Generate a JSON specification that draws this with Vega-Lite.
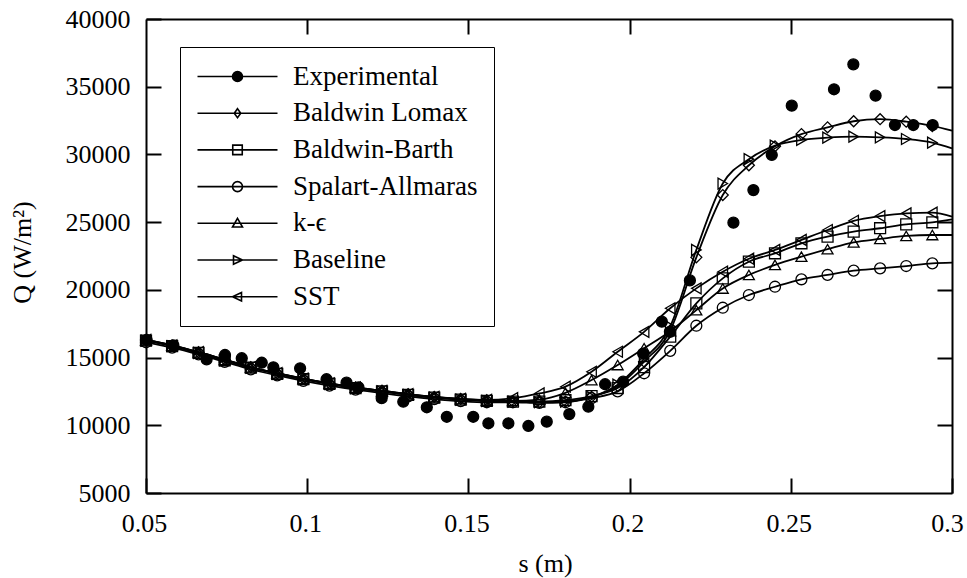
{
  "$schema": "https://vega.github.io/schema/vega-lite/v6.json",
  "width": 806,
  "height": 474,
  "autosize": {"type": "none"},
  "padding": {"left": 146, "top": 19, "right": 15, "bottom": 85},
  "background": "white",
  "config": {
    "view": {"stroke": null},
    "font": "Liberation Serif",
    "axis": {
      "domainColor": "black", "domainWidth": 2, "tickColor": "black", "tickWidth": 2,
      "grid": false, "labelFont": "Liberation Serif", "labelFontSize": 26, "labelColor": "black",
      "titleFont": "Liberation Serif", "titleFontSize": 26, "titleFontWeight": "normal", "titleColor": "black",
      "labelFlush": false, "labelOverlap": false
    }
  },
  "data": {"values": [
    {"model":"Baldwin Lomax","s":0.05,"Q":16300},{"model":"Baldwin Lomax","s":0.0581,"Q":15900},{"model":"Baldwin Lomax","s":0.0663,"Q":15400},{"model":"Baldwin Lomax","s":0.0744,"Q":14850},{"model":"Baldwin Lomax","s":0.0825,"Q":14300},{"model":"Baldwin Lomax","s":0.0907,"Q":13850},{"model":"Baldwin Lomax","s":0.0988,"Q":13450},{"model":"Baldwin Lomax","s":0.1069,"Q":13100},{"model":"Baldwin Lomax","s":0.115,"Q":12800},{"model":"Baldwin Lomax","s":0.1232,"Q":12550},{"model":"Baldwin Lomax","s":0.1313,"Q":12300},{"model":"Baldwin Lomax","s":0.1394,"Q":12100},{"model":"Baldwin Lomax","s":0.1476,"Q":11950},{"model":"Baldwin Lomax","s":0.1557,"Q":11850},{"model":"Baldwin Lomax","s":0.1638,"Q":11750},{"model":"Baldwin Lomax","s":0.172,"Q":11700},{"model":"Baldwin Lomax","s":0.1801,"Q":11750},{"model":"Baldwin Lomax","s":0.1882,"Q":12100},{"model":"Baldwin Lomax","s":0.1963,"Q":12900},{"model":"Baldwin Lomax","s":0.2045,"Q":14700},{"model":"Baldwin Lomax","s":0.2126,"Q":17000},{"model":"Baldwin Lomax","s":0.2207,"Q":22400},{"model":"Baldwin Lomax","s":0.2289,"Q":27000},{"model":"Baldwin Lomax","s":0.237,"Q":29200},{"model":"Baldwin Lomax","s":0.2451,"Q":30600},{"model":"Baldwin Lomax","s":0.2533,"Q":31500},{"model":"Baldwin Lomax","s":0.2614,"Q":32000},{"model":"Baldwin Lomax","s":0.2695,"Q":32450},{"model":"Baldwin Lomax","s":0.2777,"Q":32600},{"model":"Baldwin Lomax","s":0.2858,"Q":32420},{"model":"Baldwin Lomax","s":0.2939,"Q":32100},{"model":"Baldwin Lomax","s":0.3,"Q":31750},
    {"model":"Baldwin-Barth","s":0.05,"Q":16250},{"model":"Baldwin-Barth","s":0.0581,"Q":15850},{"model":"Baldwin-Barth","s":0.0663,"Q":15350},{"model":"Baldwin-Barth","s":0.0744,"Q":14800},{"model":"Baldwin-Barth","s":0.0825,"Q":14250},{"model":"Baldwin-Barth","s":0.0907,"Q":13800},{"model":"Baldwin-Barth","s":0.0988,"Q":13400},{"model":"Baldwin-Barth","s":0.1069,"Q":13050},{"model":"Baldwin-Barth","s":0.115,"Q":12750},{"model":"Baldwin-Barth","s":0.1232,"Q":12500},{"model":"Baldwin-Barth","s":0.1313,"Q":12250},{"model":"Baldwin-Barth","s":0.1394,"Q":12050},{"model":"Baldwin-Barth","s":0.1476,"Q":11900},{"model":"Baldwin-Barth","s":0.1557,"Q":11800},{"model":"Baldwin-Barth","s":0.1638,"Q":11750},{"model":"Baldwin-Barth","s":0.172,"Q":11750},{"model":"Baldwin-Barth","s":0.1801,"Q":11850},{"model":"Baldwin-Barth","s":0.1882,"Q":12150},{"model":"Baldwin-Barth","s":0.1963,"Q":12750},{"model":"Baldwin-Barth","s":0.2045,"Q":14300},{"model":"Baldwin-Barth","s":0.2126,"Q":16550},{"model":"Baldwin-Barth","s":0.2207,"Q":19000},{"model":"Baldwin-Barth","s":0.2289,"Q":20850},{"model":"Baldwin-Barth","s":0.237,"Q":22080},{"model":"Baldwin-Barth","s":0.2451,"Q":22700},{"model":"Baldwin-Barth","s":0.2533,"Q":23440},{"model":"Baldwin-Barth","s":0.2614,"Q":23930},{"model":"Baldwin-Barth","s":0.2695,"Q":24300},{"model":"Baldwin-Barth","s":0.2777,"Q":24550},{"model":"Baldwin-Barth","s":0.2858,"Q":24840},{"model":"Baldwin-Barth","s":0.2939,"Q":24990},{"model":"Baldwin-Barth","s":0.3,"Q":25210},
    {"model":"Spalart-Allmaras","s":0.05,"Q":16130},{"model":"Spalart-Allmaras","s":0.0581,"Q":15730},{"model":"Spalart-Allmaras","s":0.0663,"Q":15230},{"model":"Spalart-Allmaras","s":0.0744,"Q":14680},{"model":"Spalart-Allmaras","s":0.0825,"Q":14130},{"model":"Spalart-Allmaras","s":0.0907,"Q":13680},{"model":"Spalart-Allmaras","s":0.0988,"Q":13280},{"model":"Spalart-Allmaras","s":0.1069,"Q":12930},{"model":"Spalart-Allmaras","s":0.115,"Q":12630},{"model":"Spalart-Allmaras","s":0.1232,"Q":12380},{"model":"Spalart-Allmaras","s":0.1313,"Q":12130},{"model":"Spalart-Allmaras","s":0.1394,"Q":11930},{"model":"Spalart-Allmaras","s":0.1476,"Q":11780},{"model":"Spalart-Allmaras","s":0.1557,"Q":11700},{"model":"Spalart-Allmaras","s":0.1638,"Q":11700},{"model":"Spalart-Allmaras","s":0.172,"Q":11650},{"model":"Spalart-Allmaras","s":0.1801,"Q":11700},{"model":"Spalart-Allmaras","s":0.1882,"Q":12000},{"model":"Spalart-Allmaras","s":0.1963,"Q":12500},{"model":"Spalart-Allmaras","s":0.2045,"Q":13840},{"model":"Spalart-Allmaras","s":0.2126,"Q":15500},{"model":"Spalart-Allmaras","s":0.2207,"Q":17350},{"model":"Spalart-Allmaras","s":0.2289,"Q":18680},{"model":"Spalart-Allmaras","s":0.237,"Q":19620},{"model":"Spalart-Allmaras","s":0.2451,"Q":20230},{"model":"Spalart-Allmaras","s":0.2533,"Q":20780},{"model":"Spalart-Allmaras","s":0.2614,"Q":21100},{"model":"Spalart-Allmaras","s":0.2695,"Q":21420},{"model":"Spalart-Allmaras","s":0.2777,"Q":21590},{"model":"Spalart-Allmaras","s":0.2858,"Q":21760},{"model":"Spalart-Allmaras","s":0.2939,"Q":21960},{"model":"Spalart-Allmaras","s":0.3,"Q":22010},
    {"model":"k-ϵ","s":0.05,"Q":16280},{"model":"k-ϵ","s":0.0581,"Q":15880},{"model":"k-ϵ","s":0.0663,"Q":15380},{"model":"k-ϵ","s":0.0744,"Q":14830},{"model":"k-ϵ","s":0.0825,"Q":14280},{"model":"k-ϵ","s":0.0907,"Q":13830},{"model":"k-ϵ","s":0.0988,"Q":13430},{"model":"k-ϵ","s":0.1069,"Q":13080},{"model":"k-ϵ","s":0.115,"Q":12780},{"model":"k-ϵ","s":0.1232,"Q":12530},{"model":"k-ϵ","s":0.1313,"Q":12280},{"model":"k-ϵ","s":0.1394,"Q":12080},{"model":"k-ϵ","s":0.1476,"Q":11930},{"model":"k-ϵ","s":0.1557,"Q":11830},{"model":"k-ϵ","s":0.1638,"Q":11800},{"model":"k-ϵ","s":0.172,"Q":11900},{"model":"k-ϵ","s":0.1801,"Q":12400},{"model":"k-ϵ","s":0.1882,"Q":13340},{"model":"k-ϵ","s":0.1963,"Q":14450},{"model":"k-ϵ","s":0.2045,"Q":15690},{"model":"k-ϵ","s":0.2126,"Q":16950},{"model":"k-ϵ","s":0.2207,"Q":18500},{"model":"k-ϵ","s":0.2289,"Q":20100},{"model":"k-ϵ","s":0.237,"Q":21100},{"model":"k-ϵ","s":0.2451,"Q":21840},{"model":"k-ϵ","s":0.2533,"Q":22450},{"model":"k-ϵ","s":0.2614,"Q":23000},{"model":"k-ϵ","s":0.2695,"Q":23510},{"model":"k-ϵ","s":0.2777,"Q":23760},{"model":"k-ϵ","s":0.2858,"Q":23980},{"model":"k-ϵ","s":0.2939,"Q":24050},{"model":"k-ϵ","s":0.3,"Q":24050},
    {"model":"Baseline","s":0.05,"Q":16250},{"model":"Baseline","s":0.0581,"Q":15850},{"model":"Baseline","s":0.0663,"Q":15350},{"model":"Baseline","s":0.0744,"Q":14800},{"model":"Baseline","s":0.0825,"Q":14250},{"model":"Baseline","s":0.0907,"Q":13800},{"model":"Baseline","s":0.0988,"Q":13400},{"model":"Baseline","s":0.1069,"Q":13050},{"model":"Baseline","s":0.115,"Q":12750},{"model":"Baseline","s":0.1232,"Q":12500},{"model":"Baseline","s":0.1313,"Q":12250},{"model":"Baseline","s":0.1394,"Q":12050},{"model":"Baseline","s":0.1476,"Q":11900},{"model":"Baseline","s":0.1557,"Q":11800},{"model":"Baseline","s":0.1638,"Q":11750},{"model":"Baseline","s":0.172,"Q":11700},{"model":"Baseline","s":0.1801,"Q":11750},{"model":"Baseline","s":0.1882,"Q":12100},{"model":"Baseline","s":0.1963,"Q":13000},{"model":"Baseline","s":0.2045,"Q":14900},{"model":"Baseline","s":0.2126,"Q":17300},{"model":"Baseline","s":0.2207,"Q":22950},{"model":"Baseline","s":0.2289,"Q":27850},{"model":"Baseline","s":0.237,"Q":29650},{"model":"Baseline","s":0.2451,"Q":30650},{"model":"Baseline","s":0.2533,"Q":31070},{"model":"Baseline","s":0.2614,"Q":31240},{"model":"Baseline","s":0.2695,"Q":31310},{"model":"Baseline","s":0.2777,"Q":31260},{"model":"Baseline","s":0.2858,"Q":31140},{"model":"Baseline","s":0.2939,"Q":30870},{"model":"Baseline","s":0.3,"Q":30450},
    {"model":"SST","s":0.05,"Q":16300},{"model":"SST","s":0.0581,"Q":15900},{"model":"SST","s":0.0663,"Q":15400},{"model":"SST","s":0.0744,"Q":14850},{"model":"SST","s":0.0825,"Q":14300},{"model":"SST","s":0.0907,"Q":13850},{"model":"SST","s":0.0988,"Q":13450},{"model":"SST","s":0.1069,"Q":13100},{"model":"SST","s":0.115,"Q":12800},{"model":"SST","s":0.1232,"Q":12550},{"model":"SST","s":0.1313,"Q":12300},{"model":"SST","s":0.1394,"Q":12100},{"model":"SST","s":0.1476,"Q":11950},{"model":"SST","s":0.1557,"Q":11880},{"model":"SST","s":0.1638,"Q":12000},{"model":"SST","s":0.172,"Q":12350},{"model":"SST","s":0.1801,"Q":12850},{"model":"SST","s":0.1882,"Q":13950},{"model":"SST","s":0.1963,"Q":15430},{"model":"SST","s":0.2045,"Q":16900},{"model":"SST","s":0.2126,"Q":18640},{"model":"SST","s":0.2207,"Q":20110},{"model":"SST","s":0.2289,"Q":21340},{"model":"SST","s":0.237,"Q":22300},{"model":"SST","s":0.2451,"Q":22950},{"model":"SST","s":0.2533,"Q":23690},{"model":"SST","s":0.2614,"Q":24420},{"model":"SST","s":0.2695,"Q":25100},{"model":"SST","s":0.2777,"Q":25450},{"model":"SST","s":0.2858,"Q":25650},{"model":"SST","s":0.2939,"Q":25700},{"model":"SST","s":0.3,"Q":25400},
    {"model":"Experimental","s":0.0502,"Q":16300},{"model":"Experimental","s":0.0585,"Q":15900},{"model":"Experimental","s":0.0688,"Q":14870},{"model":"Experimental","s":0.0745,"Q":15190},{"model":"Experimental","s":0.0797,"Q":14950},{"model":"Experimental","s":0.0859,"Q":14620},{"model":"Experimental","s":0.0895,"Q":14280},{"model":"Experimental","s":0.0978,"Q":14210},{"model":"Experimental","s":0.106,"Q":13400},{"model":"Experimental","s":0.1122,"Q":13150},{"model":"Experimental","s":0.1159,"Q":12800},{"model":"Experimental","s":0.1231,"Q":12000},{"model":"Experimental","s":0.1298,"Q":11740},{"model":"Experimental","s":0.1371,"Q":11330},{"model":"Experimental","s":0.1433,"Q":10630},{"model":"Experimental","s":0.1515,"Q":10630},{"model":"Experimental","s":0.1562,"Q":10150},{"model":"Experimental","s":0.1624,"Q":10150},{"model":"Experimental","s":0.1686,"Q":9950},{"model":"Experimental","s":0.1743,"Q":10265},{"model":"Experimental","s":0.1813,"Q":10830},{"model":"Experimental","s":0.1872,"Q":11370},{"model":"Experimental","s":0.1924,"Q":13030},{"model":"Experimental","s":0.198,"Q":13220},{"model":"Experimental","s":0.2042,"Q":15300},{"model":"Experimental","s":0.21,"Q":17650},{"model":"Experimental","s":0.2125,"Q":16900},{"model":"Experimental","s":0.2187,"Q":20700},{"model":"Experimental","s":0.2322,"Q":24960},{"model":"Experimental","s":0.2384,"Q":27370},{"model":"Experimental","s":0.2441,"Q":29960},{"model":"Experimental","s":0.2503,"Q":33600},{"model":"Experimental","s":0.2634,"Q":34810},{"model":"Experimental","s":0.2694,"Q":36650},{"model":"Experimental","s":0.2763,"Q":34340},{"model":"Experimental","s":0.2823,"Q":32170},{"model":"Experimental","s":0.288,"Q":32170},{"model":"Experimental","s":0.294,"Q":32170}
  ]},
  "layer": [
    {
      "transform": [{"filter": "datum.model !== 'Experimental'"}],
      "mark": {"type": "line", "interpolate": "monotone", "color": "black", "strokeWidth": 1.8},
      "encoding": {
        "x": {"field": "s", "type": "quantitative", "scale": {"domain": [0.05, 0.3], "nice": false, "zero": false},
          "axis": {"orient": "bottom", "values": [0.05, 0.1, 0.15, 0.2, 0.25, 0.3], "format": "~g", "title": "s (m)",
            "tickSize": -15, "labelPadding": 32,
            "labelOffset": {"condition": {"test": "datum.value >= 0.299", "value": -5}, "value": -2},
            "titleX": 399, "titleY": 78, "titleBaseline": "alphabetic", "titleAlign": "center"}},
        "y": {"field": "Q", "type": "quantitative", "scale": {"domain": [5000, 40000], "nice": false, "zero": false},
          "axis": {"orient": "left", "values": [5000, 10000, 15000, 20000, 25000, 30000, 35000, 40000], "format": "d", "title": "Q (W/m²)",
            "tickSize": -15, "labelPadding": 31, "titleX": -124, "titleY": 233, "titleAngle": -90, "titleAlign": "center", "titleBaseline": "middle"}},
        "detail": {"field": "model", "type": "nominal"}
      }
    },
    {
      "transform": [{"filter": "datum.s < 0.299"}],
      "mark": {"type": "point", "filled": false, "stroke": "black", "strokeWidth": 1.3, "size": 120, "opacity": 1},
      "encoding": {
        "x": {"field": "s", "type": "quantitative",
          "axis": {"orient": "top", "values": [0.1, 0.15, 0.2, 0.25], "labels": false, "title": null, "tickSize": -15}},
        "y": {"field": "Q", "type": "quantitative",
          "axis": {"orient": "right", "values": [10000, 15000, 20000, 25000, 30000, 35000], "labels": false, "title": null, "tickSize": -15}},
        "fill": {"condition": {"test": "datum.model === 'Experimental'", "value": "black"}, "value": "transparent"},
        "shape": {"field": "model", "type": "nominal",
          "scale": {"domain": ["Experimental", "Baldwin Lomax", "Baldwin-Barth", "Spalart-Allmaras", "k-ϵ", "Baseline", "SST"],
            "range": ["circle", "diamond", "square", "circle", "triangle-up", "triangle-right", "triangle-left"]},
          "legend": null
        }
      }
    },
    {
      "transform": [{"filter": "datum.s < 0"}],
      "mark": {"type": "point", "filled": false, "stroke": "black", "strokeWidth": 1.6, "size": 100, "opacity": 1},
      "encoding": {
        "x": {"field": "s", "type": "quantitative", "axis": null},
        "y": {"field": "Q", "type": "quantitative", "axis": null},
        "fill": {"field": "model", "type": "nominal",
          "scale": {"domain": ["Experimental", "Baldwin Lomax", "Baldwin-Barth", "Spalart-Allmaras", "k-ϵ", "Baseline", "SST"],
            "range": ["black", "transparent", "transparent", "transparent", "transparent", "transparent", "transparent"]},
          "legend": {
            "title": null, "orient": "none", "legendX": 34, "legendY": 28, "direction": "vertical", "columns": 1,
            "padding": 16, "fillColor": "white", "strokeColor": "black",
            "labelFont": "Liberation Serif", "labelFontSize": 27, "labelColor": "black", "labelLimit": 400,
            "symbolSize": 100, "symbolStrokeWidth": 1.6, "symbolStrokeColor": "black", "symbolOpacity": 1,
            "symbolOffset": 28, "labelOffset": 42, "rowPadding": 8.7,
            "encode": {"legend": {"strokeWidth": {"value": 2}}}
          }
        },
        "shape": {"field": "model", "type": "nominal",
          "scale": {"domain": ["Experimental", "Baldwin Lomax", "Baldwin-Barth", "Spalart-Allmaras", "k-ϵ", "Baseline", "SST"],
            "range": [
              "M-8,0H8M1,0A1,1,0,1,1,-1,0A1,1,0,1,1,1,0Z",
              "M-8,0H8M0,-0.9L0.65,0L0,0.9L-0.65,0Z",
              "M-8,0H8M-0.95,-0.95H0.95V0.95H-0.95Z",
              "M-8,0H8M1,0A1,1,0,1,1,-1,0A1,1,0,1,1,1,0Z",
              "M-8,0H8M0,-1L1,0.75H-1Z",
              "M-8,0H8M-0.8,-0.85L1,0L-0.8,0.85Z",
              "M-8,0H8M0.8,-0.85L-1,0L0.8,0.85Z"
            ]},
          "legend": {
            "title": null, "orient": "none", "legendX": 34, "legendY": 28, "direction": "vertical", "columns": 1,
            "padding": 16, "fillColor": "white", "strokeColor": "black",
            "labelFont": "Liberation Serif", "labelFontSize": 27, "labelColor": "black", "labelLimit": 400,
            "symbolSize": 100, "symbolStrokeWidth": 1.6, "symbolStrokeColor": "black", "symbolOpacity": 1,
            "symbolOffset": 28, "labelOffset": 42, "rowPadding": 8.7,
            "encode": {"legend": {"strokeWidth": {"value": 2}}}
          }
        }
      }
    }
  ],
  "resolve": {"axis": {"x": "independent", "y": "independent"}, "scale": {"shape": "independent", "fill": "independent"}}
}
